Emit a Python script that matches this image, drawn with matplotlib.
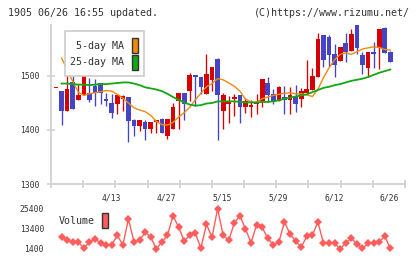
import matplotlib
matplotlib.use("Agg")
import matplotlib.pyplot as plt
from matplotlib.patches import Rectangle
import numpy as np

# ---------------- data ----------------
title_left = "1905 06/26 16:55 updated."
title_right = "(C)https://www.rizumu.net/"
date_labels = ["4/13", "4/27", "5/15", "5/29", "6/12", "6/26"]
date_label_idx = [10, 20, 30, 40, 50, 60]

# candle colour: 'r' = up (red), 'b' = down (blue)
colors = ['r','b','r','b','r','r','b','b','b','b',
          'b','r','r','b','b','r','b','r','r','b',
          'r','r','r','b','r','b','b','r','r','b',
          'r','r','r','b','r','r','r','r','b','b',
          'r','b','r','b','r','r','r','r','b','b',
          'b','r','b','r','b','b','r','b','r','b','b']
body_top = [1479,1472,1476,1488,1465,1504,1469,1481,1487,1457,
            1450,1465,1463,1461,1419,1419,1415,1415,1419,1420,
            1420,1443,1469,1469,1501,1501,1499,1503,1517,1531,
            1465,1454,1461,1465,1454,1446,1452,1494,1487,1467,
            1480,1461,1465,1461,1472,1476,1500,1569,1576,1572,
            1540,1554,1561,1578,1594,1539,1544,1544,1587,1589,1544]
body_bot = [1479,1436,1436,1439,1456,1464,1456,1468,1468,1454,
            1432,1449,1457,1417,1408,1408,1402,1402,1414,1395,
            1389,1401,1454,1449,1472,1499,1480,1466,1493,1465,
            1436,1449,1457,1443,1443,1443,1449,1451,1465,1454,
            1454,1456,1456,1448,1457,1469,1474,1498,1530,1538,
            1521,1528,1544,1546,1551,1521,1515,1541,1551,1543,1525]
highs = [1479,1472,1510,1500,1486,1506,1497,1494,1487,1469,
         1466,1465,1465,1461,1420,1419,1418,1415,1419,1423,
         1420,1450,1469,1469,1506,1501,1499,1540,1517,1533,
         1469,1463,1467,1465,1459,1455,1467,1494,1498,1476,
         1482,1481,1480,1483,1478,1530,1515,1580,1576,1576,
         1559,1554,1580,1587,1594,1545,1544,1563,1587,1591,1547]
lows = [1479,1410,1436,1439,1456,1464,1452,1445,1449,1445,
        1423,1430,1436,1377,1388,1398,1381,1395,1395,1395,
        1384,1401,1401,1419,1454,1444,1466,1466,1473,1382,
        1401,1413,1426,1413,1432,1424,1430,1443,1451,1449,
        1454,1430,1430,1433,1443,1469,1474,1498,1517,1517,
        1499,1528,1525,1546,1540,1504,1498,1515,1513,1543,1525]

ma5 = [np.nan,1533,1512,1490,1470,1464,1467,1469,1471,1473,
       1472,1466,1459,1450,1441,1437,1434,1427,1416,1410,
       1409,1414,1424,1432,1442,1456,1468,1480,1486,1495,
       1493,1487,1481,1472,1457,1452,1451,1458,1461,1464,
       1466,1468,1469,1467,1467,1465,1462,1475,1497,1515,
       1530,1540,1543,1540,1545,1550,1552,1554,1553,1549,1548]
ma25 = [np.nan,1486,1486,1485,1484,1484,1483,1484,1485,1485,
        1486,1487,1488,1488,1486,1483,1479,1477,1475,1472,
        1467,1461,1456,1451,1447,1445,1446,1449,1450,1453,
        1453,1453,1453,1452,1451,1451,1451,1452,1452,1453,
        1455,1458,1460,1462,1464,1466,1470,1474,1478,1480,
        1483,1485,1488,1491,1493,1495,1498,1502,1506,1509,1512]

volume = [np.nan,8420,6620,5600,5600,1820,5600,7220,5200,3800,
          3800,9620,3800,19400,5600,6620,11420,8600,1400,5600,
          9620,21380,14600,6200,9620,11000,1820,16220,8420,25580,
          9620,6620,17000,21380,13400,5200,15800,14420,7820,3800,
          5600,17600,10400,6200,2420,9020,9620,17600,4820,4820,
          4820,1400,5200,7820,4400,1820,4820,5200,5780,9020,1820]

price_ticks = [1300, 1400, 1500]
volume_ticks = [1400, 13400, 25400]

# ---------------- style ----------------
RED = '#d60000'
BLUE = '#4444c4'
ORANGE = '#f08a10'
GREEN = '#12a812'
VOLC = '#ff5c5c'
AXC = '#d4d4d4'
TXT = '#333333'
MONO = 'DejaVu Sans Mono'
PX = 0.72  # points per pixel at dpi 100

W, H = 420, 259
fig = plt.figure(figsize=(W / 100, H / 100), dpi=100)
fig.patch.set_facecolor('white')

def fx(px):
    return px / W

def fy(py):
    return 1 - py / H

XL = (-0.897, 62.63)

# main price axes
ax = fig.add_axes([fx(51), fy(184), fx(405) - fx(51), fy(25) - fy(184)])
n = len(colors)
idx = np.arange(n)
ax.set_xlim(*XL)
ax.set_ylim(1300, 1594.4)

MINH = 3
for i in range(n):
    c = RED if colors[i] == 'r' else BLUE
    ax.vlines(i, lows[i], highs[i], color=c, lw=0.95, zorder=2)
    h = body_top[i] - body_bot[i]
    if h < MINH:
        bottom, h = body_top[i] - MINH / 2 - h / 2, MINH
    else:
        bottom = body_bot[i]
    ax.bar(i, h, bottom=bottom, width=0.84, color=c, edgecolor='none', zorder=3)

ax.plot(idx, ma5, color=ORANGE, lw=1.0, zorder=4)
ax.plot(idx, ma25, color=GREEN, lw=1.3, zorder=4)

for s in ['top', 'right']:
    ax.spines[s].set_visible(False)
for s in ['left', 'bottom']:
    ax.spines[s].set_color(AXC)
    ax.spines[s].set_linewidth(1.4)
ax.set_yticks(price_ticks)
ax.set_yticklabels([str(t) for t in price_ticks], fontfamily=MONO, fontsize=8 * PX, color=TXT)
ax.tick_params(axis='y', direction='inout', length=8 * PX, width=1.3, color=AXC, pad=5.2)
xt = np.linspace(XL[0], XL[1], 12)
ax.set_xticks(xt)
ax.set_xticklabels([])
ax.tick_params(axis='x', direction='inout', length=8.6 * PX, width=1.4, color=AXC)
for lab, i in zip(date_labels, date_label_idx):
    ax.text(i - 0.15, 1300 - 13.8 / 0.54, lab, ha='center', va='center',
            fontfamily=MONO, fontsize=8 * PX, color=TXT)

# volume axes
vax = fig.add_axes([fx(51), fy(253), fx(405) - fx(51), fy(204) - fy(253)])
vax.set_xlim(*XL)
vax.set_ylim(-1000, 28400)
vax.plot(idx, volume, color=VOLC, lw=1.0, marker='D', markersize=4.4,
         markeredgewidth=0, markerfacecolor=VOLC)
for s in vax.spines.values():
    s.set_visible(False)
vax.set_xticks([])
vax.set_yticks(volume_ticks)
vax.set_yticklabels([str(t) for t in volume_ticks], fontfamily=MONO, fontsize=8 * PX, color=TXT)
vax.tick_params(axis='y', length=0, pad=5)
vax.patch.set_alpha(0)

# titles
fig.text(fx(8), fy(12.5), title_left, ha='left', va='center', fontfamily=MONO,
         fontsize=10 * PX, color=TXT)
fig.text(fx(410), fy(12.5), title_right, ha='right', va='center', fontfamily=MONO,
         fontsize=10 * PX, color=TXT)

# price legend (drawn above the lines)
fig.add_artist(Rectangle((fx(65), fy(76)), fx(143.5) - fx(65), fy(30.5) - fy(76),
                         transform=fig.transFigure, facecolor='white', edgecolor='#cccccc',
                         lw=1.2, zorder=5))
fig.text(fx(123.5), fy(46.3), "5-day MA", ha='right', va='center', fontfamily=MONO,
         fontsize=10 * PX, color=TXT, zorder=6)
fig.text(fx(123.5), fy(62.3), "25-day MA", ha='right', va='center', fontfamily=MONO,
         fontsize=10 * PX, color=TXT, zorder=6)
fig.add_artist(Rectangle((fx(131.5), fy(53)), fx(6), fy(0) - fy(15), transform=fig.transFigure,
                         facecolor=ORANGE, edgecolor='#333333', lw=1.0, zorder=6))
fig.add_artist(Rectangle((fx(131.5), fy(69.5)), fx(6), fy(0) - fy(15), transform=fig.transFigure,
                         facecolor=GREEN, edgecolor='#333333', lw=1.0, zorder=6))

# volume legend
fig.text(fx(59), fy(221), "Volume", ha='left', va='center', fontfamily=MONO,
         fontsize=10 * PX, color=TXT, zorder=6)
fig.add_artist(Rectangle((fx(102), fy(228)), fx(6), fy(0) - fy(15), transform=fig.transFigure,
                         facecolor=VOLC, edgecolor='#333333', lw=1.0, zorder=6))

fig.savefig("out.png", dpi=100, facecolor='white')
